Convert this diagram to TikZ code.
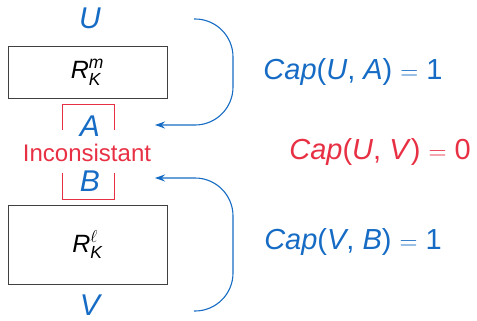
\documentclass[tikz,border=0pt]{standalone}
\usepackage{amsmath}
\usepackage{fontspec}
\setmainfont{Liberation Sans}
\usetikzlibrary{arrows.meta}
\definecolor{cblue}{RGB}{22,108,196}
\definecolor{cred}{RGB}{232,48,68}
\tikzset{
  lbl/.style={text=cblue, font=\fontsize{30}{34}\selectfont\itshape, inner sep=0pt},
  captext/.style={font=\fontsize{29}{34}\selectfont, inner sep=0pt},
  relbox/.style={draw=black!75, line width=0.9pt, minimum width=159pt, minimum height=52pt, inner sep=0pt, font=\fontsize{25}{30}\selectfont},
  br/.style={draw=cred, line width=0.9pt},
  conn/.style={draw=cblue, line width=1.1pt, rounded corners=38pt, -{Stealth[length=10pt,width=7pt]}}
}
\begin{document}
\begin{tikzpicture}[x=1pt,y=-1pt]
\useasboundingbox (0,0) rectangle (477,321);
\node[lbl] (U) at (90,18) {U};
\node[relbox] (Rm) at (87.5,72) {$\textit{R}^{\textit{m}}_{\textit{K}}$};
\node[lbl] (A) at (90,126) {A};
\node[text=cred, font=\fontsize{24}{28}\selectfont, inner sep=0pt] (inc) at (87,153) {Inconsistant};
\node[lbl] (B) at (90,181) {B};
\node[relbox, minimum height=79pt] (Rl) at (87.5,244.5) {$\textit{R}^{\ell}_{\textit{K}}$};
\node[lbl, text depth=0pt, anchor=base] (V) at (90,315.5) {V};
\draw[br] (62,130) -- (62,104) -- (114,104) -- (114,130);
\draw[br] (62,173) -- (62,199) -- (114,199) -- (114,173);
\coordinate (s1) at (194,19);
\coordinate (e1) at (155,125);
\coordinate (s2) at (194,311);
\coordinate (e2) at (155,178);
\draw[conn] (s1) -- (233,19) -- (233,125) -- (e1);
\draw[conn] (s2) -- (233,311) -- (233,178) -- (e2);
\node[captext, text=cblue] (c1) at (353,72) {\textit{Cap}(\textit{U}, \textit{A}) $=$ 1};
\node[captext, text=cred] (c2) at (380,152) {\textit{Cap}(\textit{U}, \textit{V}) $=$ 0};
\node[captext, text=cblue] (c3) at (353,242) {\textit{Cap}(\textit{V}, \textit{B}) $=$ 1};
\end{tikzpicture}
\end{document}
